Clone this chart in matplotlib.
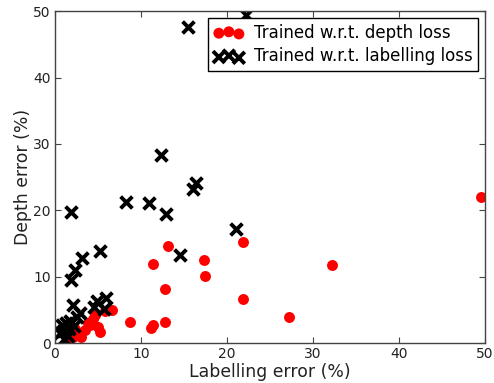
import matplotlib
matplotlib.use("Agg")
import matplotlib.pyplot as plt

depth_x = [49.5, 21.9, 13.2, 11.4, 17.3, 17.5, 32.2, 12.8, 21.9, 27.2, 8.7, 12.8, 11.4, 11.2,
           6.7, 4.7, 5.2, 3.5, 2.9, 4.1, 2.1, 5.8, 4.4, 3.8, 1.7, 2.4, 5.0, 3.0]
depth_y = [22.0, 15.2, 14.6, 11.9, 12.5, 10.1, 11.7, 8.1, 6.6, 3.9, 3.2, 3.2, 2.7, 2.3,
           5.0, 4.2, 1.7, 2.0, 1.5, 2.7, 0.9, 4.8, 3.6, 3.0, 0.5, 2.2, 2.5, 1.0]

label_x = [15.5, 22.2, 12.3, 16.4, 16.0, 8.3, 11.0, 12.9, 1.9, 21.0, 14.5, 5.3, 3.2, 2.3,
           1.9, 2.1, 4.9, 6.0, 5.7, 4.6, 2.9, 0.8, 1.3, 1.6, 0.6, 1.1, 1.8, 2.2, 0.9, 1.5, 2.6]
label_y = [47.6, 49.4, 28.3, 24.1, 23.2, 21.2, 21.1, 19.4, 19.7, 17.2, 13.3, 13.9, 12.8, 11.0,
           9.5, 5.8, 6.4, 6.8, 5.2, 5.4, 4.6, 2.8, 3.0, 2.2, 1.5, 0.6, 3.3, 2.6, 1.9, 1.1, 4.0]

xticks = [0, 10, 20, 30, 40, 50]
yticks = [0, 10, 20, 30, 40, 50]

fig = plt.figure(figsize=(4.94, 3.83), dpi=100)
ax = fig.add_axes([0.111, 0.104, 0.871, 0.867])

ax.scatter(depth_x, depth_y, s=62, c='#ff0000', marker='o', linewidths=0,
           label='Trained w.r.t. depth loss')
ax.scatter(label_x, label_y, s=72, c='k', marker='x', linewidths=2.8,
           label='Trained w.r.t. labelling loss')

ax.set_xlim(0, 50)
ax.set_ylim(0, 50)
ax.set_xticks(xticks)
ax.set_yticks(yticks)
ax.tick_params(direction='in', top=True, right=True, labelsize=10, length=4,
               color='#444444', labelcolor='#222222', pad=3)
for sp in ax.spines.values():
    sp.set_color('#444444')
    sp.set_linewidth(1.0)
ax.set_xlabel('Labelling error (%)', fontsize=12.4, labelpad=1, color='#222222')
ax.set_ylabel('Depth error (%)', fontsize=12.4, labelpad=1, color='#222222')

leg = ax.legend(loc='upper right', scatterpoints=3, scatteryoffsets=[0.375, 0.5, 0.3125],
                fontsize=12, fancybox=False, framealpha=1, edgecolor='k',
                borderaxespad=0.4, handletextpad=0.6, borderpad=0.35, labelspacing=0.35,
                handlelength=1.8)
leg.get_frame().set_linewidth(1.0)

fig.savefig('out.png', dpi=100)
